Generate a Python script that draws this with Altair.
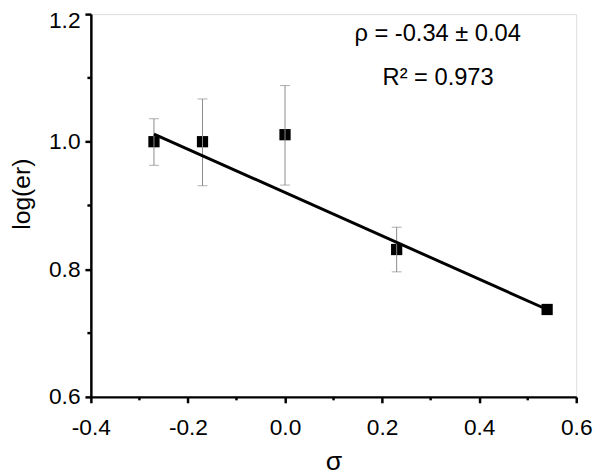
import altair as alt
import pandas as pd

# Data
sigma = [-0.27, -0.17, 0.00, 0.23, 0.54]
log_er = [1.000, 1.000, 1.011, 0.831, 0.737]
err_low = [0.963, 0.931, 0.932, 0.796, None]
err_high = [1.036, 1.067, 1.088, 0.866, None]

fit_x = [-0.27, 0.54]
fit_y = [1.012, 0.737]

x_major = [-0.4, -0.2, 0.0, 0.2, 0.4, 0.6]
x_minor = [-0.3, -0.1, 0.1, 0.3, 0.5]
y_major = [0.6, 0.8, 1.0, 1.2]
y_minor = [0.7, 0.9, 1.1]

annot_lines = ["ρ = -0.34 ± 0.04", "R² = 0.973"]

FONT = "Liberation Sans, Arial, sans-serif"
W, H = 492, 388
LABEL_EXPR = "datum.value < 0 ? '-' + format(-datum.value, '.1f') : format(datum.value, '.1f')"

pts = pd.DataFrame({"sigma": sigma, "log_er": log_er, "lo": err_low, "hi": err_high})
err = pts.dropna()
fit = pd.DataFrame({"sigma": fit_x, "log_er": fit_y})
xmin_df = pd.DataFrame({"v": x_minor})
ymin_df = pd.DataFrame({"v": y_minor})

xs = alt.Scale(domain=[-0.4, 0.6], nice=False, zero=False)
ys = alt.Scale(domain=[0.6, 1.2], nice=False, zero=False)

x_axis = alt.Axis(
    values=x_major, labelExpr=LABEL_EXPR, orient="bottom", grid=False,
    labelFlush=False, labelOverlap=False,
    domainColor="black", domainWidth=2.5, tickColor="black", tickWidth=2.5, tickSize=6,
    labelFont=FONT, labelFontSize=23, labelColor="black", labelPadding=14,
    title="σ", titleFont=FONT, titleFontSize=27, titleFontWeight="normal", titleColor="black",
    titleBaseline="alphabetic", titleY=74,
)
y_axis = alt.Axis(
    values=y_major, labelExpr=LABEL_EXPR, orient="left", grid=False,
    labelFlush=False, labelOverlap=False,
    labelOffset=alt.condition("datum.value > 1.15", alt.value(7), alt.value(0)),
    domainColor="black", domainWidth=2.5, tickColor="black", tickWidth=2.5, tickSize=6,
    labelFont=FONT, labelFontSize=23, labelColor="black", labelPadding=5,
    title="log(er)", titleFont=FONT, titleFontSize=25, titleFontWeight="normal", titleColor="black",
    titleBaseline="alphabetic", titleX=-62, titleY=182, titleAngle=-90, titleAlign="center",
)

base = alt.Chart(pts)

squares = base.mark_square(size=130, color="black", opacity=1, filled=True).encode(
    x=alt.X("sigma:Q", scale=xs, axis=x_axis),
    y=alt.Y("log_er:Q", scale=ys, axis=y_axis),
)

# minor ticks drawn as short rules just outside the plot edges
x_minor_ticks = alt.Chart(xmin_df).mark_rule(color="black", strokeWidth=2.5).encode(
    x=alt.X("v:Q", scale=xs), y=alt.value(H), y2=alt.value(H + 3.5),
)
y_minor_ticks = alt.Chart(ymin_df).mark_rule(color="black", strokeWidth=2.5).encode(
    y=alt.Y("v:Q", scale=ys), x=alt.value(0), x2=alt.value(-3.5),
)

bars = alt.Chart(err).mark_rule(color="#8a8a8a", strokeWidth=1).encode(
    x=alt.X("sigma:Q", scale=xs),
    y=alt.Y("lo:Q", scale=ys),
    y2="hi:Q",
)
cap_lo = alt.Chart(err).mark_tick(color="#8a8a8a", thickness=1, size=10, orient="horizontal").encode(
    x=alt.X("sigma:Q", scale=xs),
    y=alt.Y("lo:Q", scale=ys),
)
cap_hi = alt.Chart(err).mark_tick(color="#8a8a8a", thickness=1, size=10, orient="horizontal").encode(
    x=alt.X("sigma:Q", scale=xs),
    y=alt.Y("hi:Q", scale=ys),
)

line = alt.Chart(fit).mark_line(color="black", strokeWidth=3).encode(
    x=alt.X("sigma:Q", scale=xs),
    y=alt.Y("log_er:Q", scale=ys),
)

annot = pd.DataFrame({"t": annot_lines, "i": [0, 1]})
txt1 = alt.Chart(annot[annot.i == 0]).mark_text(
    font=FONT, fontSize=24, color="black", align="center", baseline="alphabetic"
).encode(text="t:N", x=alt.value(351.5), y=alt.value(27))
txt2 = alt.Chart(annot[annot.i == 1]).mark_text(
    font=FONT, fontSize=24, color="black", align="center", baseline="alphabetic"
).encode(text="t:N", x=alt.value(352), y=alt.value(72))

chart = (
    alt.layer(squares, x_minor_ticks, y_minor_ticks, bars, cap_lo, cap_hi, line, txt1, txt2)
    .properties(
        width=W, height=H,
        autosize=alt.AutoSizeParams(type="none"),
        padding={"left": 84, "top": 3, "right": 18, "bottom": 77},
    )
    .configure_view(stroke=None)
    .configure(background="white")
)

chart.save("out.html", embed_options={"renderer": "svg", "actions": False})
